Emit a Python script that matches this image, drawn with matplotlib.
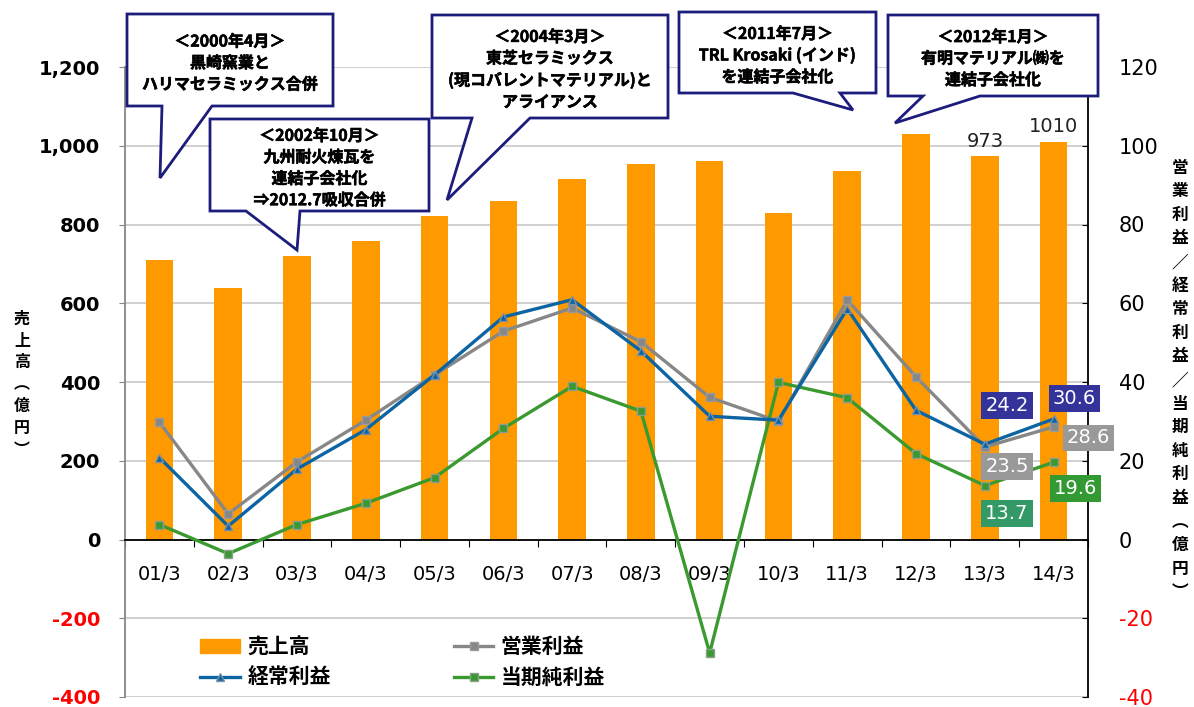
import matplotlib.pyplot as plt
import matplotlib.patheffects as pe
import numpy as np
from matplotlib.lines import Line2D
from matplotlib.patches import Patch, Polygon

periods = ["01/3", "02/3", "03/3", "04/3", "05/3", "06/3", "07/3",
           "08/3", "09/3", "10/3", "11/3", "12/3", "13/3", "14/3"]
sales = [709, 639, 721, 757, 822, 860, 916, 953, 961, 830, 936, 1029, 973, 1010]
operating = [29.8, 6.5, 19.7, 30.3, 41.8, 52.9, 58.8, 50.2, 36.1, 30.0, 60.8, 41.3, 23.5, 28.6]
ordinary = [20.8, 3.4, 17.9, 27.9, 41.8, 56.5, 60.9, 47.9, 31.3, 30.3, 58.6, 32.8, 24.2, 30.6]
net = [3.8, -3.6, 3.8, 9.2, 15.7, 28.2, 38.9, 32.6, -28.8, 39.9, 36.0, 21.8, 13.7, 19.6]

left_ticks = [-400, -200, 0, 200, 400, 600, 800, 1000, 1200]
right_ticks = [-40, -20, 0, 20, 40, 60, 80, 100, 120]

notes = [
    "＜2000年4月＞\n黒崎窯業と\nハリマセラミックス合併",
    "＜2002年10月＞\n九州耐火煉瓦を\n連結子会社化\n⇒2012.7吸収合併",
    "＜2004年3月＞\n東芝セラミックス\n(現コバレントマテリアル)と\nアライアンス",
    "＜2011年7月＞\nTRL Krosaki (インド)\nを連結子会社化",
    "＜2012年1月＞\n有明マテリアル㈱を\n連結子会社化",
]

ORANGE = "#FF9900"
GRAY = "#878787"
BLUE = "#0C65A2"
GREEN = "#3A9A30"
NAVY = "#1C1C7C"
JP = ["Noto Sans CJK JP", "DejaVu Sans"]
HEAVY = [pe.withStroke(linewidth=0.4, foreground="black")]

plt.rcParams["font.family"] = ["DejaVu Sans", "Noto Sans CJK JP"]
plt.rcParams["axes.unicode_minus"] = False

W, H = 1194, 707
fig = plt.figure(figsize=(W / 100, H / 100), dpi=100)
ax = fig.add_axes([125 / W, 1 - 697 / H, 963 / W, 630 / H])
ax2 = ax.twinx()


def fpos(x, y):
    # pixel position measured from the top-left corner -> figure fraction
    return x / W, 1 - y / H


x = np.arange(len(periods))

# sales bars on the left axis
ax.bar(x, sales, width=0.4, color=ORANGE, zorder=2)
ax.set_xlim(-0.5, len(periods) - 0.5)
ax.set_ylim(-400, 1200)
ax.set_yticks(left_ticks, labels=[f"{v:,}" for v in left_ticks])
ax.grid(axis="y", color="#C8C8C8", lw=1.2, zorder=0)
ax.set_axisbelow(True)
for lbl, v in zip(ax.get_yticklabels(), left_ticks):
    lbl.set_color("red" if v < 0 else "black")
    lbl.set_fontweight("bold")
ax.tick_params(axis="y", labelsize=14, length=4, pad=14, color=GRAY)

ax.spines["bottom"].set_position(("data", 0))
ax.spines["bottom"].set_linewidth(1.3)
ax.spines["top"].set_visible(False)
ax.spines["right"].set_visible(False)
ax.spines["left"].set_color(GRAY)
ax.spines["left"].set_linewidth(1.3)
ax.set_xticks(np.arange(-0.5, len(periods)), labels=[""] * (len(periods) + 1))
ax.set_xticks(x, labels=periods, minor=True)
ax.tick_params(axis="x", which="major", length=5, direction="out")
ax.tick_params(axis="x", which="minor", length=0, labelsize=14, pad=18)

# profit lines on the right axis
ax2.plot(x, operating, color=GRAY, lw=2.4, marker="s", ms=6,
         mfc=GRAY, mec="#9A9A9A", zorder=3)
ax2.plot(x, ordinary, color=BLUE, lw=2.4, marker="^", ms=6,
         mfc=BLUE, mec="#7A8FA8", zorder=4)
ax2.plot(x, net, color=GREEN, lw=2.4, marker="s", ms=6,
         mfc=GREEN, mec="#8E9E8E", zorder=3)
ax2.set_ylim(-40, 120)
ax2.set_yticks(right_ticks)
for lbl, v in zip(ax2.get_yticklabels(), right_ticks):
    lbl.set_color("red" if v < 0 else "black")
ax2.tick_params(axis="y", labelsize=15, length=4, direction="in", pad=22)
for side in ["left", "top", "bottom"]:
    ax2.spines[side].set_visible(False)
ax2.spines["right"].set_linewidth(1.3)

# sales values on the last two bars
for i in (12, 13):
    ax.annotate(f"{sales[i]}", xy=(i, sales[i]), xytext=(0, 4),
                textcoords="offset points", ha="center", va="bottom",
                fontsize=14, color="#222222")

# boxed profit values for the last two years
boxed = [
    (12, ordinary, "#333399", (16, 28)),
    (13, ordinary, "#333399", (15, 15)),
    (12, operating, "#999999", (16, -14)),
    (13, operating, "#999999", (25, -8)),
    (12, net, "#339966", (16, -20)),
    (13, net, "#339933", (16, -19)),
]
for i, series, color, off in boxed:
    ax2.annotate(f"{series[i]}", xy=(i, series[i]), xytext=off,
                 textcoords="offset points", ha="center", va="center",
                 fontsize=14, color="white", zorder=6, annotation_clip=False,
                 bbox=dict(boxstyle="square,pad=0.2", fc=color, ec="none"))

# axis titles, written vertically
fig.text(*fpos(22, 384), "\n".join("売上高︵億円︶"), family=JP, weight="bold",
         fontsize=11.5, ha="center", va="center", linespacing=1.45)
fig.text(*fpos(1180, 380), "\n".join("営業利益／経常利益／当期純利益︵億円︶"),
         family=JP, weight="bold", fontsize=12, ha="center", va="center",
         linespacing=1.4)

# speech-bubble callouts: box, tail base on the bottom edge, tail tip
callouts = [
    ((127, 14, 333, 106), (162, 212), (160, 178)),
    ((210, 119, 429, 211), (246, 300), (297, 250)),
    ((432, 15, 668, 118), (472, 530), (447, 200)),
    ((679, 12, 876, 93), (793, 840), (853, 110)),
    ((888, 15, 1098, 96), (923, 980), (895, 123)),
]
for text, ((x0, y0, x1, y1), (b0, b1), tip) in zip(notes, callouts):
    pts = [(x0, y0), (x1, y0), (x1, y1), (b1, y1), tip, (b0, y1), (x0, y1)]
    fig.add_artist(Polygon([fpos(*p) for p in pts], closed=True,
                           transform=fig.transFigure, fc="white", ec=NAVY,
                           lw=2, zorder=5))
    fig.text(*fpos((x0 + x1) / 2, (y0 + y1) / 2 + 3), text, family=JP,
             weight="bold", fontsize=11.5, ha="center", va="center",
             linespacing=1.42, zorder=6, path_effects=HEAVY)

handles = [
    Patch(color=ORANGE),
    Line2D([], [], color=BLUE, lw=2.4, marker="^", ms=6, mfc=BLUE, mec="#7A8FA8"),
    Line2D([], [], color=GRAY, lw=2.4, marker="s", ms=6, mfc=GRAY, mec="#9A9A9A"),
    Line2D([], [], color=GREEN, lw=2.4, marker="s", ms=6, mfc=GREEN, mec="#8E9E8E"),
]
labels = ["売上高", "経常利益", "営業利益", "当期純利益"]
fig.legend(handles, labels, loc="upper left", bbox_to_anchor=fpos(190, 626),
           ncol=2, frameon=False, borderpad=0, handlelength=1.9,
           handleheight=0.6, handletextpad=0.35, columnspacing=5.9,
           labelspacing=0.45, prop=dict(family=JP, weight="bold", size=15))

fig.savefig("out.png", dpi=100)
